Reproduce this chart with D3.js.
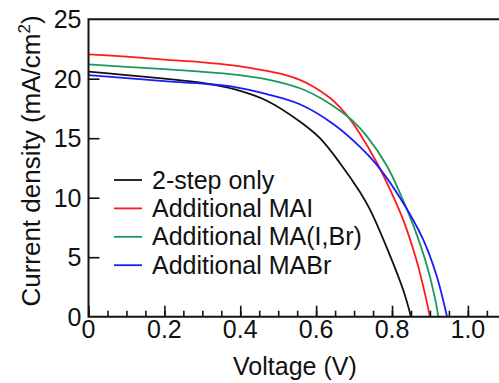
<!DOCTYPE html>
<html>
<head>
<meta charset="utf-8">
<script src="https://cdn.jsdelivr.net/npm/d3@7"></script>
<style>
  body { margin: 0; background: #fff; }
  svg text { font-family: "Liberation Sans", Arial, sans-serif; fill: #111; }
</style>
</head>
<body>
<div id="chart"></div>
<script>
// J-V curves (voltage in V, current density in mA/cm2)
var seriesNames = ["2-step only", "Additional MAI", "Additional MA(I,Br)", "Additional MABr"];

var vBlack = [0, 0.1, 0.2, 0.3, 0.386, 0.47, 0.557, 0.61, 0.663, 0.715, 0.742, 0.794, 0.83, 0.85];
var jBlack = [20.6, 20.3, 20.0, 19.65, 19.1, 18.15, 16.4, 15.0, 12.9, 10.5, 9.0, 5.2, 2.2, 0];

var vRed = [0, 0.1, 0.2, 0.294, 0.386, 0.47, 0.52, 0.557, 0.592, 0.636, 0.663, 0.689, 0.715, 0.759, 0.799, 0.83, 0.865, 0.887, 0.90];
var jRed = [22.05, 21.85, 21.6, 21.4, 21.1, 20.65, 20.3, 19.9, 19.35, 18.4, 17.6, 16.6, 15.4, 13.0, 10.4, 8.1, 4.7, 1.9, 0];

var vGreen = [0, 0.1, 0.2, 0.294, 0.386, 0.47, 0.557, 0.61, 0.663, 0.7, 0.733, 0.786, 0.825, 0.856, 0.891, 0.913, 0.922];
var jGreen = [21.2, 21.0, 20.8, 20.6, 20.35, 19.95, 19.2, 18.4, 17.3, 16.35, 15.2, 12.7, 10.1, 7.7, 4.4, 1.6, 0];

var vBlue = [0, 0.1, 0.2, 0.294, 0.386, 0.47, 0.557, 0.645, 0.715, 0.759, 0.821, 0.882, 0.917, 0.945];
var jBlue = [20.3, 20.05, 19.8, 19.6, 19.3, 18.7, 17.85, 16.2, 14.3, 12.8, 10.0, 6.5, 3.5, 0];

var xTicks = [0, 0.2, 0.4, 0.6, 0.8, 1.0];
var xTickLabels = ["0", "0.2", "0.4", "0.6", "0.8", "1.0"];
var xMinorTicks = d3.range(0, 1.06, 0.05);
var yTicks = [0, 5, 10, 15, 20, 25];

var colors = ["#111111", "#ff1a1a", "#1a9a5a", "#1a1aff"];

var width = 499, height = 383;
var margin = {top: 19.2, right: 0, bottom: 66.3, left: 88.5};
var innerWidth = width - margin.left - margin.right,
    innerHeight = height - margin.top - margin.bottom;

var svg = d3.select("#chart").append("svg")
  .attr("width", width)
  .attr("height", height)
  .append("g")
  .attr("transform", "translate(" + margin.left + "," + margin.top + ")");

var xScale = d3.scaleLinear().domain([0, 1.082]).range([0, innerWidth]);
var yScale = d3.scaleLinear().domain([0, 25]).range([innerHeight, 0]);

var series = [
  {v: vBlack, j: jBlack},
  {v: vRed, j: jRed},
  {v: vGreen, j: jGreen},
  {v: vBlue, j: jBlue}
].map(function(s, i) {
  return {name: seriesNames[i], color: colors[i], points: s.v.map(function(v, k) { return [v, s.j[k]]; })};
});

// curves
var line = d3.line()
  .x(function(d) { return xScale(d[0]); })
  .y(function(d) { return yScale(d[1]); })
  .curve(d3.curveCatmullRom.alpha(0.5));

svg.selectAll(".curve")
  .data(series)
  .enter().append("path")
  .attr("class", "curve")
  .attr("d", function(d) { return line(d.points); })
  .attr("fill", "none")
  .attr("stroke", function(d) { return d.color; })
  .attr("stroke-width", 1.8);

// x axis: minor ticks every 0.05, major every 0.2, pointing inward
var xAxisMinor = svg.append("g")
  .attr("transform", "translate(0," + innerHeight + ")")
  .call(d3.axisTop(xScale).tickValues(xMinorTicks).tickSize(6).tickFormat(""));
var xAxis = svg.append("g")
  .attr("transform", "translate(0," + innerHeight + ")")
  .call(d3.axisTop(xScale).tickValues(xTicks).tickSize(11).tickFormat(""));
[xAxisMinor, xAxis].forEach(function(a) {
  a.select(".domain").remove();
  a.selectAll(".tick line").attr("stroke", "#111").attr("stroke-width", 1.6);
});

svg.append("g").selectAll("text")
  .data(xTicks)
  .enter().append("text")
  .attr("x", function(d) { return xScale(d); })
  .attr("y", innerHeight + 21)
  .attr("text-anchor", "middle")
  .style("font-size", "25px")
  .text(function(d, i) { return xTickLabels[i]; });

// y axis
var yAxis = svg.append("g")
  .call(d3.axisRight(yScale).tickValues(yTicks.slice(1, 5)).tickSize(11).tickFormat(""));
yAxis.select(".domain").remove();
yAxis.selectAll(".tick line").attr("stroke", "#111").attr("stroke-width", 1.6);

svg.append("g").selectAll("text")
  .data(yTicks)
  .enter().append("text")
  .attr("x", -7)
  .attr("y", function(d) { return yScale(d) + 9; })
  .attr("text-anchor", "end")
  .style("font-size", "25px")
  .text(function(d) { return d; });

// frame: left, bottom, top
svg.append("path")
  .attr("d", "M" + (innerWidth + 2) + ",0H0V" + innerHeight + "H" + (innerWidth + 2))
  .attr("fill", "none")
  .attr("stroke", "#111")
  .attr("stroke-width", 2);

// axis titles
svg.append("text")
  .attr("x", xScale(0.544))
  .attr("y", innerHeight + 58)
  .attr("text-anchor", "middle")
  .style("font-size", "25px")
  .text("Voltage (V)");

var yTitle = svg.append("text")
  .attr("transform", "translate(" + (-48.5) + "," + (161 - margin.top) + ") rotate(-90)")
  .attr("text-anchor", "middle")
  .style("font-size", "26px");
yTitle.append("tspan").text("Current density (mA/cm");
yTitle.append("tspan").attr("dy", -10).style("font-size", "17px").text("2");
yTitle.append("tspan").attr("dy", 10).text(")");

// legend
var legend = svg.append("g").attr("transform", "translate(25.5," + (180 - margin.top) + ")");
var rows = legend.selectAll("g")
  .data(series)
  .enter().append("g")
  .attr("transform", function(d, i) { return "translate(0," + (i * 28.4) + ")"; });
rows.append("line")
  .attr("x1", 0).attr("x2", 28)
  .attr("stroke", function(d) { return d.color; })
  .attr("stroke-width", 1.8);
rows.append("text")
  .attr("x", 38)
  .attr("y", 8.5)
  .style("font-size", "25px")
  .text(function(d) { return d.name; });
</script>
</body>
</html>
